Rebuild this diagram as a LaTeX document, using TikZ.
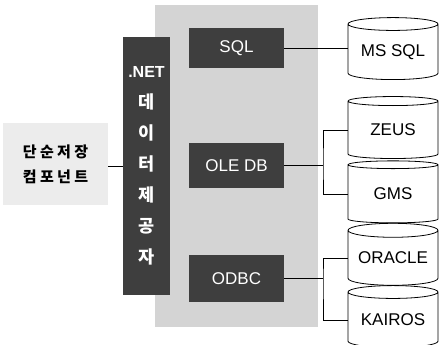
\documentclass[tikz,border=0pt]{standalone}
\usepackage{fontspec}
\setmainfont{Liberation Sans}
\newfontfamily\krfont{Noto Sans CJK KR}
\newfontfamily\krwide[LetterSpace=22]{Noto Sans CJK KR}
\usetikzlibrary{positioning,shapes.geometric,calc}
\definecolor{panelgray}{RGB}{212,212,212}
\definecolor{darkbox}{RGB}{62,62,62}
\definecolor{compgray}{RGB}{236,236,236}

\begin{document}
\begin{tikzpicture}[
  x=1pt, y=-1pt,
  panel/.style={fill=panelgray, minimum width=163pt, minimum height=322pt, inner sep=0pt},
  comp/.style={fill=compgray, minimum width=105pt, minimum height=82pt, inner sep=0pt,
               align=center, font=\krwide\bfseries\fontsize{15}{25}\selectfont},
  provider/.style={fill=darkbox, text=white, minimum width=47pt, minimum height=258pt,
                   inner sep=0pt, align=center, font=\krfont\bfseries\fontsize{17.5}{31}\selectfont},
  drv/.style={fill=darkbox, text=white, minimum width=95pt, inner sep=0pt,
              font=\fontsize{17}{19}\selectfont},
  db/.style={cylinder, shape border rotate=90, draw, thick, aspect=0.2,
             minimum width=90pt, minimum height=62pt, inner sep=0pt,
             font=\fontsize{17}{19}\selectfont},
  link/.style={draw, thick},
]
\useasboundingbox (0,0) rectangle (439,345);

% background panel
\node[panel] (panel) at (236.5,166) {};

% left component and provider bar
\node[comp] (comp) at (55.5,164) {단순저장\\컴포넌트};
\node[provider] (net) at (146.5,166) {{\rmfamily\fontsize{16}{31}\selectfont .NET}\\데\\이\\터\\제\\공\\자};

% providers
\node[drv, minimum height=40pt] (sql) at (236.5,48) {SQL};
\node[drv, minimum height=45pt] (oledb) at (236.5,165.5) {OLE DB};
\node[drv, minimum height=47pt] (odbc) at (236.5,278.5) {ODBC};

% databases
\node[db] (mssql) at (393,52) {MS SQL};
\node[db] (zeus) at (393,130) {ZEUS};
\node[db] (gms) at (393,194) {GMS};
\node[db] (oracle) at (393,258) {ORACLE};
\node[db] (kairos) at (393,320) {KAIROS};

\coordinate (jole) at (323,165.5);
\coordinate (jodbc) at (323,278.5);

% Connections
\draw[link] (comp.east |- net) -- (net.west |- net);
\draw[link] (sql.east) -- (sql.east -| mssql.west);
\draw[link] (oledb.east) -- (jole);
\draw[link] (zeus -| zeus.west) -| (jole) |- (gms -| gms.west);
\draw[link] (odbc.east) -- (jodbc);
\draw[link] (oracle -| oracle.west) -| (jodbc) |- (kairos -| kairos.west);
\end{tikzpicture}
\end{document}
